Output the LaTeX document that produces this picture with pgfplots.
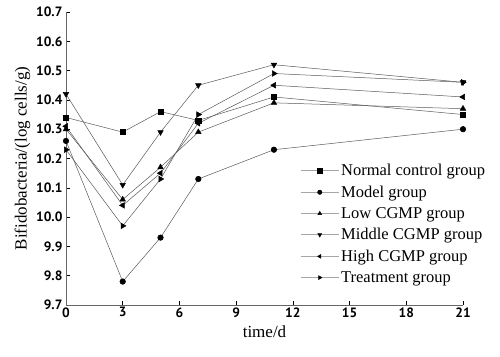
\documentclass[border=0pt]{standalone}
\usepackage{pgfplots}
\pgfplotsset{compat=1.18}
\usepackage{fontspec}
\setmainfont{Liberation Serif}
\setsansfont{PT Sans}
\begin{document}
\begin{tikzpicture}
\begin{axis}[name=ax,
  scale only axis, width=397pt, height=293pt,
  xmin=0, xmax=21, ymin=9.7, ymax=10.7,
  xtick={0,3,...,21}, ytick={9.7,9.8,...,10.75},
  axis x line*=bottom, axis y line*=left,
  tick align=inside, major tick length=4pt,
  tick style={black, line width=0.6pt},
  axis line style={line width=0.8pt, gray!80!black},
  /pgf/number format/assume math mode=true,
  yticklabel style={/pgf/number format/.cd, fixed, fixed zerofill, precision=1},
  ticklabel style={font=\sffamily\bfseries\fontsize{13.5}{14}\selectfont},
  xticklabel style={yshift=1pt},
  xlabel={time/d}, ylabel={Bifidobacteria/(log cells/g)},
  label style={font=\fontsize{17}{18}\selectfont},
  xlabel style={yshift=-1pt},
  ylabel style={yshift=-1pt},
  legend style={draw=none, fill=none, at={(0.59,0.065)}, anchor=south west, font=\fontsize{16.5}{17}\selectfont, row sep=4.6pt, inner sep=0pt},
  legend cell align=left,
  legend image code/.code={\draw[gray!70, line width=0.7pt] (0cm,0cm) -- (38pt,0cm); \draw[#1, mark size=2.2pt] plot coordinates {(19pt,0cm)};},
]
\pgfplotsset{gs/.style={line width=0.5pt, gray!70!black, mark options={black, fill=black, solid}, mark size=3.2pt}}
\addplot[gs, mark=square*, mark size=2.6pt] coordinates {(0,10.34) (3,10.29) (5,10.36) (7,10.33) (11,10.41) (21,10.35)};
\addlegendentry{Normal control group}
\addplot[gs, mark=*, mark size=2.8pt] coordinates {(0,10.26) (3,9.78) (5,9.93) (7,10.13) (11,10.23) (21,10.30)};
\addlegendentry{Model group}
\addplot[gs, mark=triangle*] coordinates {(0,10.30) (3,10.06) (5,10.17) (7,10.29) (11,10.39) (21,10.37)};
\addlegendentry{Low CGMP group}
\addplot[gs, mark=triangle*, mark options={black, fill=black, solid, rotate=180}] coordinates {(0,10.42) (3,10.11) (5,10.29) (7,10.45) (11,10.52) (21,10.46)};
\addlegendentry{Middle CGMP group}
\addplot[gs, mark=triangle*, mark options={black, fill=black, solid, rotate=90}] coordinates {(0,10.31) (3,10.04) (5,10.15) (7,10.32) (11,10.45) (21,10.41)};
\addlegendentry{High CGMP group}
\addplot[gs, mark=triangle*, mark options={black, fill=black, solid, rotate=-90}] coordinates {(0,10.23) (3,9.97) (5,10.13) (7,10.35) (11,10.49) (21,10.46)};
\addlegendentry{Treatment group}
\end{axis}
\path ([xshift=-66pt,yshift=-51pt]ax.south west) rectangle ([xshift=37pt,yshift=12pt]ax.north east);
\end{tikzpicture}
\end{document}
